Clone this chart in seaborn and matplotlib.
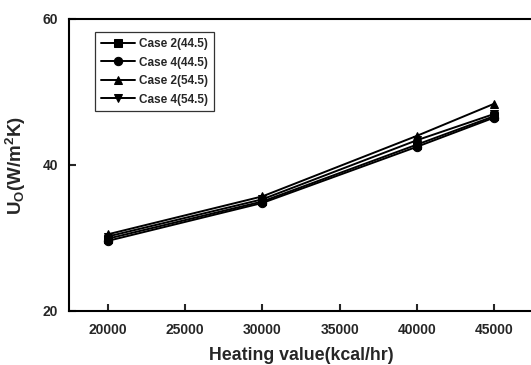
import matplotlib
matplotlib.use("Agg")
import matplotlib.pyplot as plt
import seaborn as sns
import pandas as pd

heating = [20000, 30000, 40000, 45000]
case2_445 = [29.9, 35.0, 42.8, 46.7]
case4_445 = [29.6, 34.8, 42.5, 46.5]
case2_545 = [30.5, 35.7, 44.0, 48.4]
case4_545 = [30.2, 35.3, 43.4, 47.0]
series_names = ["Case 2(44.5)", "Case 4(44.5)", "Case 2(54.5)", "Case 4(54.5)"]
series_vals = [case2_445, case4_445, case2_545, case4_545]

rows = []
for name, vals in zip(series_names, series_vals):
    for x, y in zip(heating, vals):
        rows.append({"x": x, "y": y, "series": name})
df = pd.DataFrame(rows)

sns.set_style("ticks")
plt.rcParams['font.family'] = ['Liberation Sans', 'DejaVu Sans']
plt.rcParams['font.weight'] = 'bold'
plt.rcParams['mathtext.default'] = 'regular'

fig = plt.figure(figsize=(5.31, 3.65), dpi=100)
ax = fig.add_axes([69/531, (365-311)/365, (533-69)/531, (311-19)/365])

markers = {"Case 2(44.5)": "s", "Case 4(44.5)": "o", "Case 2(54.5)": "^", "Case 4(54.5)": "v"}
palette = {n: "black" for n in series_names}
sns.lineplot(data=df, x="x", y="y", hue="series", style="series", markers=markers,
             dashes=False, palette=palette, ax=ax, markersize=6, linewidth=1.4,
             markeredgecolor="black", hue_order=series_names, style_order=series_names)

ax.set_xlim(17500, 47500)
ax.set_ylim(20, 60)
ax.set_xticks([20000, 25000, 30000, 35000, 40000, 45000])
ax.set_yticks([20, 40, 60])
ax.tick_params(direction="in", length=5, width=1.5, labelsize=10)
ax.tick_params(axis="x", pad=9)
ax.tick_params(axis="y", pad=8)
for lab in ax.get_xticklabels() + ax.get_yticklabels():
    lab.set_fontweight("bold")
for s in ax.spines.values():
    s.set_linewidth(1.5)
    s.set_color("black")

ax.set_xlabel("Heating value(kcal/hr)", fontsize=12.8, fontweight="bold", labelpad=7)
ax.set_ylabel(r"U$_{O}$(W/m$^{2}$K)", fontsize=13.5, fontweight="bold", labelpad=10)

leg = ax.legend(loc="upper left", bbox_to_anchor=(0.056, 0.955), frameon=True, fancybox=False,
                edgecolor="black", prop={"weight": "bold", "size": 8.5}, handlelength=2.9,
                handletextpad=0.3, borderpad=0.5, labelspacing=0.55, borderaxespad=0,
                title=None)
leg.get_frame().set_linewidth(0.9)

fig.savefig("out.png", dpi=100)
